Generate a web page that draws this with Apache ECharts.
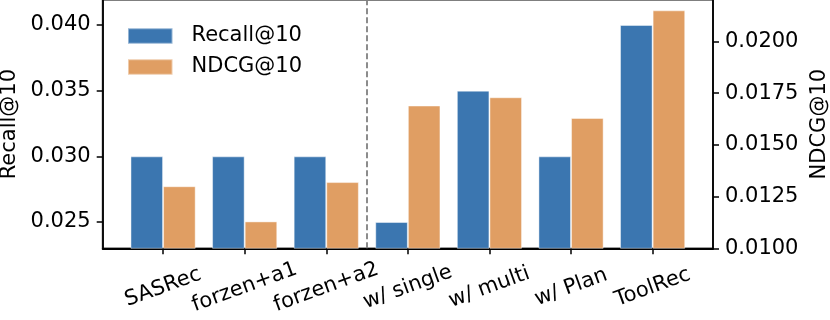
<!DOCTYPE html>
<html>
<head>
<meta charset="utf-8">
<script src="https://cdn.jsdelivr.net/npm/echarts@6/dist/echarts.min.js"></script>
<style>
html,body{margin:0;padding:0;background:#fff;}
#chart{width:830px;height:320px;}
</style>
</head>
<body>
<div id="chart"></div>
<script>
const categories = ['SASRec', 'forzen+a1', 'forzen+a2', 'w/ single', 'w/ multi', 'w/ Plan', 'ToolRec'];
const recallValues = [0.030, 0.030, 0.030, 0.025, 0.035, 0.030, 0.040];
const ndcgValues = [0.0130, 0.0113, 0.0132, 0.0169, 0.0173, 0.0163, 0.0215];
const recallTicks = [0.025, 0.030, 0.035, 0.040];
const ndcgTicks = [0.0100, 0.0125, 0.0150, 0.0175, 0.0200];
const dividerPosition = 2.5;

const FONT = 'DejaVu Sans';
const catIndex = categories.map((_, i) => i);

const chart = echarts.init(document.getElementById('chart'), null, {renderer: 'canvas'});
chart.setOption({
  animation: false,
  backgroundColor: '#ffffff',
  textStyle: {fontFamily: FONT},
  grid: {
    left: 102.7, right: 117, top: 0, bottom: 71.7,
    containLabel: false, outerBoundsMode: 'none',
    show: true, borderColor: 'rgba(0,0,0,0.5)', borderWidth: 2, backgroundColor: 'transparent'
  },
  legend: {
    orient: 'vertical', left: 122, top: 20.5,
    itemWidth: 44.5, itemHeight: 15.3, itemGap: 10,
    icon: 'rect',
    textStyle: {fontFamily: FONT, fontSize: 21, color: '#000', padding: [0, 0, 0, 14]},
    data: ['Recall@10', 'NDCG@10']
  },
  xAxis: {
    type: 'value', min: -0.74, max: 6.74,
    splitLine: {show: false},
    axisLine: {show: true, onZero: false, lineStyle: {color: '#000', width: 1.8}},
    axisTick: {show: true, length: 6, lineStyle: {color: '#000', width: 1.5}, customValues: catIndex},
    axisLabel: {
      customValues: catIndex,
      formatter: v => categories[Math.round(v)],
      rotate: 20, align: 'center', verticalAlign: 'middle', margin: 39,
      fontFamily: FONT, fontSize: 21, color: '#000'
    }
  },
  yAxis: [
    {
      type: 'value', position: 'left', min: 0.0230, max: 0.0419,
      name: 'Recall@10', nameLocation: 'middle', nameGap: 83, nameRotate: 90,
      nameTextStyle: {fontFamily: FONT, fontSize: 21, color: '#000'},
      splitLine: {show: false},
      axisLine: {show: true, onZero: false, lineStyle: {color: '#000', width: 1.8}},
      axisTick: {show: true, length: 6, lineStyle: {color: '#000', width: 1.5}, customValues: recallTicks},
      axisLabel: {customValues: recallTicks, formatter: v => v.toFixed(3), margin: 12,
        fontFamily: FONT, fontSize: 21, color: '#000'}
    },
    {
      type: 'value', position: 'right', min: 0.0100, max: 0.0220,
      name: 'NDCG@10', nameLocation: 'middle', nameGap: 95, nameRotate: 90,
      nameTextStyle: {fontFamily: FONT, fontSize: 21, color: '#000'},
      splitLine: {show: false},
      axisLine: {show: true, onZero: false, lineStyle: {color: '#000', width: 1.8}},
      axisTick: {show: true, length: 6, lineStyle: {color: '#000', width: 1.5}, customValues: ndcgTicks},
      axisLabel: {customValues: ndcgTicks, formatter: v => v.toFixed(4), margin: 12,
        fontFamily: FONT, fontSize: 21, color: '#000'}
    }
  ],
  series: [
    {
      name: 'Recall@10', type: 'bar', yAxisIndex: 0,
      data: recallValues.map((v, i) => [i, v]),
      barWidth: 32.6, barGap: '0%', clip: true,
      itemStyle: {color: '#3b76b0', borderColor: 'rgba(255,255,255,0.45)', borderWidth: 1}
    },
    {
      name: 'NDCG@10', type: 'bar', yAxisIndex: 1,
      data: ndcgValues.map((v, i) => [i, v]),
      barWidth: 32.6, barGap: '0%', clip: true,
      itemStyle: {color: '#e09e63', borderColor: 'rgba(255,255,255,0.45)', borderWidth: 1}
    },
    {
      name: 'divider', type: 'line', yAxisIndex: 0, data: [], showSymbol: false, silent: true,
      markLine: {
        silent: true, symbol: 'none', label: {show: false},
        lineStyle: {color: '#808080', type: [6, 3], width: 1.8},
        data: [{xAxis: dividerPosition}]
      }
    }
  ]
});
</script>
</body>
</html>
